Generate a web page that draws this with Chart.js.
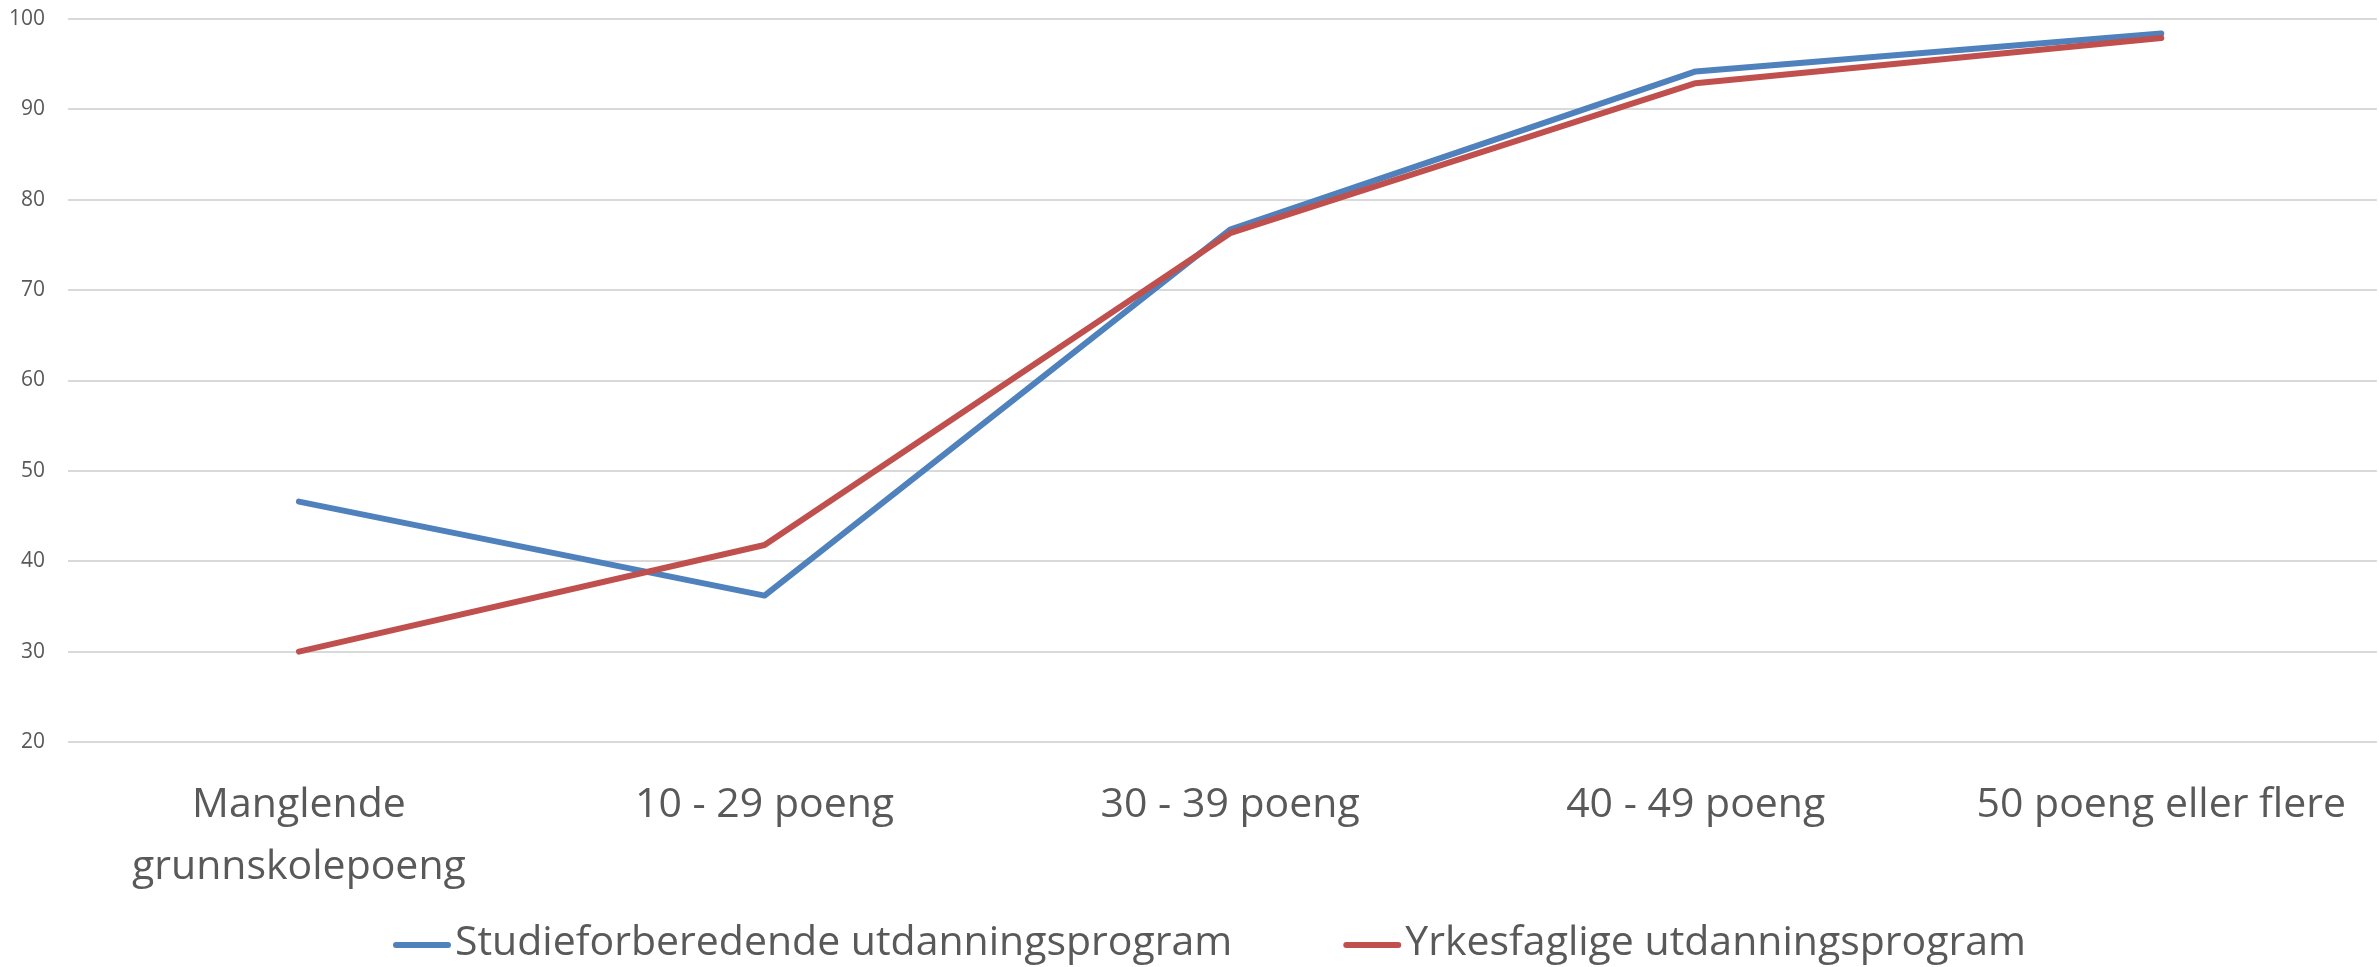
<!DOCTYPE html>
<html>
<head>
<meta charset="utf-8">
<title>Grunnskolepoeng</title>
<script src="https://cdn.jsdelivr.net/npm/chart.js"></script>
<style>
  html, body { margin: 0; padding: 0; background: #fff; }
  #wrap { width: 2379px; height: 967px; }
</style>
</head>
<body>
<div id="wrap"><canvas id="chart"></canvas></div>
<script>
// data
const categories = [['Manglende', 'grunnskolepoeng'], '10 - 29 poeng', '30 - 39 poeng', '40 - 49 poeng', '50 poeng eller flere'];
const studieforberedende = [46.6, 36.2, 76.7, 94.2, 98.4];
const yrkesfaglige = [30.0, 41.8, 76.3, 92.9, 97.9];
const seriesNames = ['Studieforberedende utdanningsprogram', 'Yrkesfaglige utdanningsprogram'];
const seriesColors = ['#4F81BD', '#C0504D'];
const yTicks = [20, 30, 40, 50, 60, 70, 80, 90, 100];

const textColor = '#595959';
const fontFamily = '"Open Sans", "Noto Sans", sans-serif';

const toPoints = arr => arr.map((v, i) => ({ x: i, y: v }));

// Excel-style legend: short line, text right behind it
const bottomLegend = {
  id: 'bottomLegend',
  afterDraw(chart) {
    const ctx = chart.ctx;
    const y = chart.height - 24;
    const lineLen = 58, gap = 4, spacing = 111;
    ctx.save();
    ctx.font = '41px ' + fontFamily;
    ctx.textBaseline = 'middle';
    const items = chart.data.datasets.map(ds => ({
      ds, w: lineLen + gap + ctx.measureText(ds.label).width
    }));
    const total = items.reduce((s, it) => s + it.w, 0) + spacing * (items.length - 1);
    let x = chart.width / 2 + 20 - total / 2;
    items.forEach(it => {
      ctx.strokeStyle = it.ds.borderColor;
      ctx.lineWidth = 6;
      ctx.lineCap = 'round';
      ctx.beginPath();
      ctx.moveTo(x + 3, y + 2);
      ctx.lineTo(x + lineLen - 3, y + 2);
      ctx.stroke();
      ctx.fillStyle = textColor;
      ctx.fillText(it.ds.label, x + lineLen + gap, y);
      x += it.w + spacing;
    });
    ctx.restore();
  }
};

new Chart('chart', {
  type: 'line',
  data: {
    datasets: [
      {
        label: seriesNames[0],
        data: toPoints(studieforberedende),
        borderColor: seriesColors[0],
        backgroundColor: seriesColors[0],
        order: 1
      },
      {
        label: seriesNames[1],
        data: toPoints(yrkesfaglige),
        borderColor: seriesColors[1],
        backgroundColor: seriesColors[1],
        order: 0
      }
    ]
  },
  options: {
    responsive: true,
    maintainAspectRatio: false,
    animation: false,
    layout: { padding: { top: 19, right: 0, bottom: 36, left: 0 } },
    elements: {
      line: { borderWidth: 6, tension: 0, fill: false, borderCapStyle: 'round', borderJoinStyle: 'round' },
      point: { radius: 0, hoverRadius: 0 }
    },
    plugins: {
      legend: { display: false },
      tooltip: { enabled: false }
    },
    scales: {
      x: {
        type: 'linear',
        min: -0.496,
        max: 4.463,
        afterBuildTicks: s => { s.ticks = categories.map((c, i) => ({ value: i })); },
        ticks: {
          callback: v => categories[v],
          color: textColor,
          font: { family: fontFamily, size: 41, lineHeight: 1.5 },
          padding: 33,
          autoSkip: false,
          maxRotation: 0
        },
        grid: { display: false, drawTicks: false },
        border: { display: false }
      },
      y: {
        min: yTicks[0],
        max: yTicks[yTicks.length - 1],
        afterFit: s => { s.width = 68; s.paddingTop = 0; s.paddingBottom = 0; },
        ticks: {
          stepSize: 10,
          color: textColor,
          font: { family: fontFamily, size: 21 },
          padding: 23
        },
        grid: { color: '#d9d9d9', lineWidth: 2, drawTicks: false },
        border: { display: false }
      }
    }
  },
  plugins: [bottomLegend]
});
</script>
</body>
</html>
